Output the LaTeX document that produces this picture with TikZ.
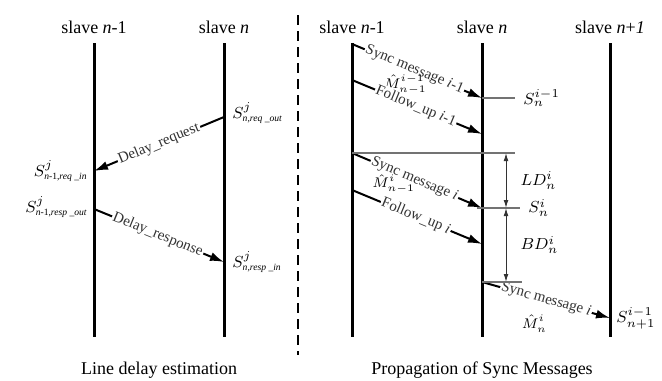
\documentclass[tikz,border=0pt]{standalone}
\usepackage{fontspec}
\setmainfont{Liberation Serif}
\usetikzlibrary{arrows.meta, positioning, calc}

% small italic subscript for the time stamps
\newcommand{\stampsub}[1]{\text{\fontsize{4.8}{5}\selectfont\itshape #1}}
\usepackage{amsmath}

\begin{document}
\begin{tikzpicture}[
    x=0.5pt, y=-0.5pt,
    font=\fontsize{9}{11}\selectfont,
    % styles
    lifeline/.style={line width=1.5pt},
    msg/.style={-{Latex[length=7pt,width=4.5pt]}, line width=1pt},
    msglabel/.style={sloped, fill=white, inner sep=0.6pt, text=black!80, font=\fontsize{7.5}{9}\selectfont},
    stamp/.style={inner sep=1pt, font=\fontsize{8}{10}\selectfont},
    hatlabel/.style={inner sep=0.5pt, font=\fontsize{7}{8}\selectfont},
    guide/.style={draw=black!55, line width=0.6pt},
    dim/.style={{Latex[length=4pt,width=2.4pt]}-{Latex[length=4pt,width=2.4pt]}, line width=0.5pt, draw=black!80}
]
    \useasboundingbox (0,0) rectangle (662,380);

    % ============================================================
    % Lifelines
    % ============================================================
    \foreach \name/\x in {Ln1/94, Ln/224, Rn1/352, Rn/482, Rnp/610} {
        \coordinate (\name-top) at (\x,43);
        \coordinate (\name-bot) at (\x,337);
        \draw[lifeline] (\name-top) -- (\name-bot);
    }
    \node[above=1pt of Ln1-top] (lab_ln1) {slave \textit{n}-1};
    \node[above=1pt of Ln-top] (lab_ln) {slave \textit{n}};
    \node[above=1pt of Rn1-top] (lab_rn1) {slave \textit{n}-1};
    \node[above=1pt of Rn-top] (lab_rn) {slave \textit{n}};
    \node[above=1pt of Rnp-top] (lab_rnp) {slave \textit{n}+\textit{1}};

    % separator
    \coordinate (sep-top) at (298,15);
    \coordinate (sep-bot) at (298,355);
    \draw[line width=1pt, dash pattern=on 5pt off 3pt] (sep-top) -- (sep-bot);

    % ============================================================
    % Left: Line delay estimation
    % ============================================================
    \coordinate (req-out) at (224,117);
    \coordinate (req-in) at (94,171);
    \coordinate (resp-out) at (94,209);
    \coordinate (resp-in) at (224,262);

    \draw[msg] (req-out) -- node[msglabel, pos=0.5] {Delay\_request} (req-in);
    \draw[msg] (resp-out) -- node[msglabel, pos=0.49] {Delay\_response} (resp-in);

    \node[stamp, right=3pt of req-out, yshift=2pt] (s_req_out) {$S^{j}_{\stampsub{n,req \_out}}$};
    \node[stamp, left=2pt of req-in] (s_req_in) {$S^{j}_{\stampsub{n}\text{\fontsize{4.8}{5}\selectfont -1,}\stampsub{req \_in}}$};
    \node[stamp, left=2pt of resp-out, yshift=1pt] (s_resp_out) {$S^{j}_{\stampsub{n}\text{\fontsize{4.8}{5}\selectfont -1,}\stampsub{resp \_out}}$};
    \node[stamp, right=3pt of resp-in] (s_resp_in) {$S^{j}_{\stampsub{n,resp \_in}}$};

    \node[below=9pt of $(Ln1-bot)!0.5!(Ln-bot)$] (cap_left) {Line delay estimation};

    % ============================================================
    % Right: Propagation of Sync Messages
    % ============================================================
    \coordinate (syncA-out) at (352,44);
    \coordinate (syncA-in) at (482,98);
    \coordinate (followA-out) at (352,80);
    \coordinate (followA-in) at (482,134);
    \coordinate (syncB-out) at (352,153);
    \coordinate (syncB-in) at (482,208);
    \coordinate (followB-out) at (352,190);
    \coordinate (followB-in) at (482,244);
    \coordinate (syncC-out) at (482,282);
    \coordinate (syncC-in) at (610,318);
    \coordinate (dimx) at (506,0);

    \draw[msg] (syncA-out) -- node[msglabel, pos=0.48] {Sync message \textit{i}-1}
        node[hatlabel, pos=0.41, below=3.5pt] {$\hat{M}^{i-1}_{n-1}$} (syncA-in);
    \draw[msg] (followA-out) -- node[msglabel, pos=0.49] {Follow\_up \textit{i}-1} (followA-in);
    \draw[msg] (syncB-out) -- node[msglabel, pos=0.48] {Sync message \textit{i}}
        node[hatlabel, pos=0.32, below=1pt] {$\hat{M}^{i}_{n-1}$} (syncB-in);
    \draw[msg] (followB-out) -- node[msglabel, pos=0.49] {Follow\_up \textit{i}} (followB-in);
    \draw[msg] (syncC-out) -- node[msglabel, pos=0.5] {Sync message \textit{i}}
        node[hatlabel, pos=0.41, below=8pt] {$\hat{M}^{i}_{n}$} (syncC-in);

    % time stamps and delays
    \draw[guide] (syncA-in) -- ++(33,0) coordinate (tickA);
    \node[stamp, right=3pt of tickA] (s_a) {$S^{i-1}_{n}$};
    \draw[guide] (syncB-out) -- ++(163,0) coordinate (tickB);
    \draw[guide] ($(syncB-in)+(-5,0)$) -- ++(43,0) coordinate (tickC);
    \node[stamp, right=3pt of tickC] (s_b) {$S^{i}_{n}$};
    \draw[guide] (syncC-out) -- ++(40,0) coordinate (tickD);

    \draw[dim] (syncB-out -| dimx) -- node[stamp, right=6pt] {$LD^{i}_{n}$} (syncB-in -| dimx);
    \draw[dim] (syncB-in -| dimx) -- node[stamp, right=6pt] {$BD^{i}_{n}$} (syncC-out -| dimx);

    \node[stamp, right=2pt of syncC-in] (s_c) {$S^{i-1}_{n+1}$};

    \node[below=9pt of Rn-bot] (cap_right) {Propagation of Sync Messages};

\end{tikzpicture}
\end{document}
